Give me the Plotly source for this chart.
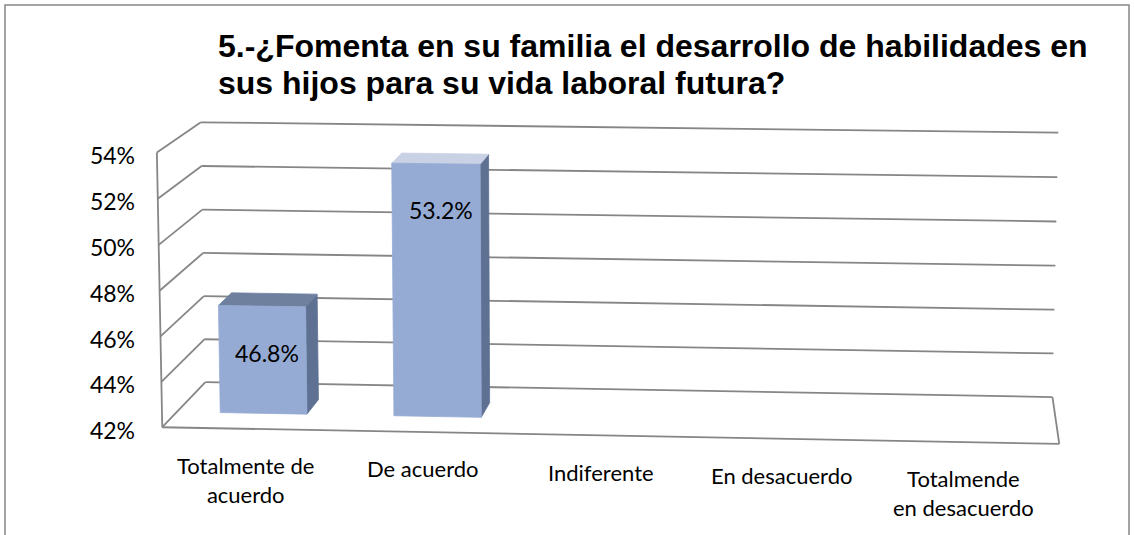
import numpy as np
import plotly.graph_objects as go

# ---------------- data ----------------
categories = ["Totalmente de acuerdo", "De acuerdo", "Indiferente",
              "En desacuerdo", "Totalmende en desacuerdo"]
category_labels = ["Totalmente de<br>acuerdo", "De acuerdo", "Indiferente",
                   "En desacuerdo", "Totalmende<br>en desacuerdo"]
values = [46.8, 53.2, None, None, None]
tick_values = [42, 44, 46, 48, 50, 52, 54]
tick_labels = ["42%", "44%", "46%", "48%", "50%", "52%", "54%"]
title_lines = ["5.-¿Fomenta en su familia el desarrollo de habilidades en",
               "sus hijos para su vida laboral futura?"]

# ---------------- 3D perspective frame (layout) ----------------
W, H = 1134, 535
Y_MIN, Y_MAX = tick_values[0], tick_values[-1]
N = len(categories)
# box corners (category, value, depth) -> screen pixel, used to fit a camera
anchor_world = [(0, Y_MAX, 0), (0, Y_MIN, 0), (0, Y_MAX, 1), (0, Y_MIN, 1),
                (N, Y_MAX, 1), (N, Y_MIN, 1), (N, Y_MIN, 0)]
anchor_screen = [(156.7, 151.7), (162.7, 427.7), (201, 123), (205, 381.7),
                 (1058.3, 132.7), (1052.7, 396.7), (1059, 444.3)]


def norm_w(p):
    return np.array([p[0] / N, (p[1] - Y_MIN) / (Y_MAX - Y_MIN), p[2], 1.0])


rows = []
for wp, sp in zip(anchor_world, anchor_screen):
    Xh = norm_w(wp)
    u, v = (sp[0] - 600) / 500, (sp[1] - 300) / 500
    rows.append(np.concatenate([Xh, np.zeros(4), -u * Xh]))
    rows.append(np.concatenate([np.zeros(4), Xh, -v * Xh]))
_, _, Vt = np.linalg.svd(np.array(rows))
P = Vt[-1].reshape(3, 4)


def proj(x, y, z):
    h = P @ norm_w((x, y, z))
    return 600 + 500 * h[0] / h[2], 300 + 500 * h[1] / h[2]


BAR_W = 0.5
Z0, Z1 = 0.33, 0.65
GRID = "#868686"
FRONT = "#95abd4"
SIDE = "#5f7193"
TOPS = ["#6f809f", "#c9d2e4", "#6f809f", "#6f809f", "#6f809f"]
TXT_FONT = "Lato, Carlito, Calibri, sans-serif"

fig = go.Figure()

# ---- walls / grid lines ----
gx, gy = [], []


def seg(a, b):
    pa, pb = proj(*a), proj(*b)
    gx.extend([pa[0], pb[0], None])
    gy.extend([pa[1], pb[1], None])


for t in tick_values:
    seg((0, t, 0), (0, t, 1))       # left wall
    seg((0, t, 1), (N, t, 1))       # back wall
seg((0, Y_MIN, 0), (0, Y_MAX, 0))   # front-left edge
seg((0, Y_MIN, 0), (N, Y_MIN, 0))   # floor front
seg((N, Y_MIN, 0), (N, Y_MIN, 1))   # floor right

fig.add_trace(go.Scatter(x=gx, y=gy, mode="lines",
                         line=dict(color=GRID, width=1.8),
                         hoverinfo="skip", showlegend=False))

# ---- bars ----
lab_x, lab_y, lab_t = [], [], []
for i, v in enumerate(values):
    if v is None:
        continue
    x0, x1 = i + 0.5 - BAR_W / 2, i + 0.5 + BAR_W / 2
    faces = [
        ([(x1, Y_MIN, Z0), (x1, Y_MIN, Z1), (x1, v, Z1), (x1, v, Z0)], SIDE),
        ([(x0, v, Z0), (x1, v, Z0), (x1, v, Z1), (x0, v, Z1)], TOPS[i]),
        ([(x0, Y_MIN, Z0), (x1, Y_MIN, Z0), (x1, v, Z0), (x0, v, Z0)], FRONT),
    ]
    for pts, col in faces:
        pp = [proj(*p) for p in pts] + [proj(*pts[0])]
        fig.add_trace(go.Scatter(x=[p[0] for p in pp], y=[p[1] for p in pp],
                                 mode="lines", fill="toself", fillcolor=col,
                                 line=dict(color=col, width=0.8),
                                 hoverinfo="skip", showlegend=False))
    tx, ty = proj(i + 0.5, v, Z0)
    lab_x.append(tx + 5)
    lab_y.append(ty + 50)
    lab_t.append(f"{v:.1f}%")

fig.add_trace(go.Scatter(x=lab_x, y=lab_y, text=lab_t, mode="text",
                         textposition="middle center",
                         textfont=dict(family=TXT_FONT, size=23, color="black"),
                         hoverinfo="skip", showlegend=False))

# ---- category labels ----
for i, lab in enumerate(category_labels):
    cx, cy = proj(i + 0.5, Y_MIN, 0)
    fig.add_annotation(x=cx - 5, y=cy + 21, xref="x", yref="y", text=lab,
                       showarrow=False, xanchor="center", yanchor="top",
                       align="center",
                       font=dict(family=TXT_FONT, size=22, color="black"))

# ---- axes ----
L = 140
tick_pos = [proj(0, t, 0)[1] + 3.5 for t in tick_values]
fig.update_xaxes(range=[L, W], visible=False, fixedrange=True)
fig.update_yaxes(range=[H, 0], tickvals=tick_pos, ticktext=tick_labels,
                 showgrid=False, zeroline=False, showline=False, ticks="",
                 ticklabelstandoff=4,
                 tickfont=dict(family=TXT_FONT, size=23, color="black"),
                 fixedrange=True)

# outer border
fig.add_shape(type="rect", xref="paper", yref="paper",
              x0=(5 - L) / (W - L), x1=(1129 - L) / (W - L),
              y0=-0.05, y1=1 - 5 / H,
              line=dict(color="#868686", width=1.5))

# title (two lines, Excel-like tight spacing)
for k, line in enumerate(title_lines):
    fig.add_annotation(x=(216 - L) / (W - L), y=1 - (46 + 37 * k) / H,
                       xref="paper", yref="paper",
                       text="<b>" + line + "</b>", showarrow=False,
                       xanchor="left", yanchor="middle", align="left",
                       font=dict(family="Liberation Sans, Arial, sans-serif",
                                 size=32, color="black"))

fig.update_layout(width=W, height=H, margin=dict(l=L, r=0, t=0, b=0),
                  paper_bgcolor="white", plot_bgcolor="white",
                  showlegend=False)

fig.write_html("out.html", config={"displayModeBar": False},
               post_script="document.body.style.margin='0px';"
                           "document.body.style.overflow='hidden';")
